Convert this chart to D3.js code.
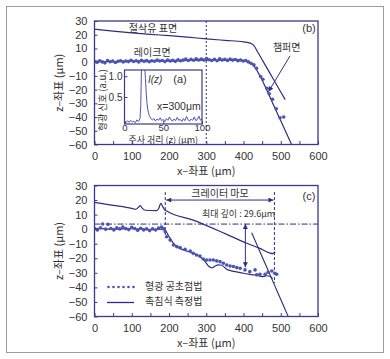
<!DOCTYPE html>
<html><head><meta charset="utf-8">
<script src="https://cdn.jsdelivr.net/npm/d3@7"></script>
<style>
body{margin:0;background:#fff;}
svg{display:block;}
text{font-family:"Liberation Sans",Arial,sans-serif;fill:#333;}
.kr{font-family:"Noto Sans CJK KR","Noto Sans",sans-serif;}
</style></head><body>
<svg id="chart" width="390" height="359"></svg>
<script>
// ---------- tick labels ----------
const xTicks = [0,100,200,300,400,500,600];
const xMinorTicks = [0,50,100,150,200,250,300,350,400,450,500,550,600];
const yTicks = [30,20,10,0,-10,-20,-30,-40,-50,-60];
const insetXTicks = [0,50,100];
const insetYTicks = [0.5,1.0];

// ---------- panel (b) ----------
const bFluidX = [0,50,100,150,200,250,300,350,400,418,427,440,460,480,500,512];
const bFluidZ = [24,22.6,21.4,20.3,19.3,18.2,17,15.9,14.8,13.9,12.4,6.5,-2.9,-12.3,-21.7,-27.3];
const bRakeX = [0,100,200,300,380,410,420,430,440,450,460,480,500,515,529];
const bRakeZ = [0.3,0.6,0.9,1.4,1.2,0.3,-0.8,-3.5,-8,-13,-18.9,-30.8,-42.7,-51.6,-60];
const bDotX = [0,7,14,21,28,35,42,49,56,63,70,77,84,91,98,105,112,119,126,133,140,147,154,161,168,175,182,189,196,203,210,217,224,231,238,245,252,259,266,273,280,287,294,301,308,315,322,329,336,343,350,357,364,371,378,385,392,399,406,413,420,428,435,446,452,463,469,478,488,498,508];
const bDotZ = [0.5,0,1,0.2,-0.5,1.2,0.3,0.8,-0.2,0.6,1,0.2,0.9,0.4,1.3,0.5,1,0.2,1.4,0.6,1.1,0.3,1,0.7,1.5,0.8,1.2,0.4,1.6,0.9,1.3,0.6,1.8,1,1.5,2.2,1.2,2,1.4,2.5,1.6,2.3,1.5,2.6,1.8,1.2,2.1,1,2.4,1.6,2,1.3,2.2,1.5,1.9,1.1,1.6,0.8,1.2,0.2,-0.8,-2,-4.5,-10.5,-12.5,-19,-23,-27,-34,-40.5,-40];

// ---------- inset (a) ----------
const insetZ = [0,2,4,6,8,10,12,14,16,18,20,21,22,23,24,25,26,27,28,29,30,31,32,33,34,36,38,40,42,44,46,48,50,52,54,56,58,60,62,64,66,68,70,72,74,76,78,80,82,84,86,88,90,92,94,96,98,100];
const insetI = [-0.09,-0.12,-0.07,-0.11,-0.06,-0.1,-0.08,-0.12,-0.05,-0.09,-0.02,0.3,1.3,1.3,1.3,1.3,1.25,0.95,0.6,0.35,0.2,0.12,0.05,0.02,-0.02,-0.05,-0.02,-0.08,-0.03,-0.06,0.0,-0.07,-0.04,-0.09,-0.02,-0.06,0.02,-0.05,-0.08,-0.03,-0.07,0.01,-0.06,-0.04,-0.09,-0.02,-0.07,0.03,-0.05,-0.08,-0.03,-0.06,0.02,-0.07,-0.04,0.04,-0.06,-0.03];

// ---------- panel (c) ----------
const cUpperX = [0,50,100,110,118,123,128,136,167,172,178,183,188,194,265,355,409,444,470,478,485];
const cUpperZ = [18.4,16.4,14.3,13.7,15,16.2,14.5,13,12.8,14,17.7,15.5,13.5,12.4,6.2,-3.6,-9.7,-13.2,-16.3,-16.8,-15.5];
const cLowerX = [0,50,100,150,185,192,200,210,221,243,265,283,297,306,315,323,332,341,355,370,382,400,426,440,453,462,472,478];
const cLowerZ = [0.5,0,0.3,-0.3,0,-1.5,-5,-9,-12,-14.6,-16.6,-19,-22.3,-25.3,-26.5,-25.5,-24.6,-24.8,-27.5,-28.8,-29.4,-30.3,-31.4,-32,-32.6,-32,-32.5,-34];
const cChamferX = [422,520];
const cChamferZ = [-2.5,-60];
const cDotX = [0,8,16,22,30,36,44,52,60,68,76,84,92,100,108,116,124,132,140,148,156,164,172,180,186,190,194,203,212,221,230,243,257,265,274,283,292,301,310,319,328,337,346,355,364,373,382,391,404,417,431,435,444,458,466,476,484,489];
const cDotZ = [0.5,-0.5,1,3.5,0,3.3,0.5,-0.5,1,0.2,1.5,0.4,-0.3,1.2,0.5,-0.8,0.6,-0.5,0.2,-1,0.3,-0.6,0.8,1.5,0.2,-1.8,-5.2,-7.5,-10.9,-12,-12.7,-13.9,-15,-16.6,-17.7,-18.4,-20.5,-21.2,-21.2,-21.2,-21.8,-22.3,-23.4,-24.6,-25.3,-25.7,-26.4,-26.8,-28,-29.2,-28,-31.4,-31,-31,-29.6,-28.7,-30.3,-31];
const craterStart = 190, craterEnd = 483;
const refLevel = 3.5;   // dash-dot reference
const maxDepth = 29.6;
const depthX = 405;

const NAVY = "#2e2e80", DOT = "#4a54b4", FRAME = "#3a3a8a";

const svg = d3.select("#chart");
svg.append("defs").append("marker")
  .attr("id","ah").attr("viewBox","0 0 10 10").attr("refX",10).attr("refY",5)
  .attr("markerWidth",7).attr("markerHeight",5).attr("orient","auto-start-reverse")
  .append("path").attr("d","M0,0 L10,5 L0,10 z").attr("fill",NAVY);

// outer frame
svg.append("rect").attr("x",6.5).attr("y",6.5).attr("width",377).attr("height",346)
  .attr("fill","none").attr("stroke","#9c9c9c").attr("stroke-width",1);

const x = d3.scaleLinear([0,600],[94.5,318]);

function drawAxes(y, top, bottom){
  const g = svg.append("g");
  const gx = g.append("g").attr("transform",`translate(0,${bottom})`)
    .call(d3.axisBottom(x).tickValues(xTicks).tickSize(0).tickPadding(8).tickFormat(d=>d));
  gx.select(".domain").remove();
  gx.selectAll("text").attr("font-size",11).attr("fill","#333").attr("font-family","Liberation Sans, Arial, sans-serif");
  const gxm = g.append("g").attr("transform",`translate(0,${bottom})`)
    .call(d3.axisBottom(x).tickValues(xMinorTicks).tickSize(-3.5).tickFormat(""));
  gxm.select(".domain").remove();
  gxm.selectAll("line").attr("stroke",FRAME);
  const gy = g.append("g").attr("transform",`translate(${x(0)},0)`)
    .call(d3.axisLeft(y).tickValues(yTicks).tickSize(-3).tickPadding(6).tickFormat(d=>String(d).replace("-","\u2212")));
  gy.select(".domain").remove();
  gy.selectAll("line").attr("stroke",FRAME);
  gy.selectAll("text").attr("font-size",11).attr("fill","#333").attr("font-family","Liberation Sans, Arial, sans-serif").attr("dx",-1);
  g.append("rect").attr("x",x(0)).attr("y",top).attr("width",x(600)-x(0)).attr("height",bottom-top)
    .attr("fill","none").attr("stroke",FRAME).attr("stroke-width",1.3);
  // axis titles
  g.append("text").attr("class","kr").attr("x",(x(0)+x(600))/2).attr("y",bottom+28)
    .attr("text-anchor","middle").attr("font-size",11).attr("dominant-baseline","middle").text("x\u2013좌표 (μm)");
  g.append("text").attr("class","kr").attr("transform",`translate(60,${(top+bottom)/2}) rotate(-90)`)
    .attr("text-anchor","middle").attr("font-size",11).attr("dominant-baseline","middle").text("z\u2013좌표 (μm)");
}

function lineOf(xs, zs, y, curve){
  return d3.line().x((d,i)=>x(xs[i])).y((d,i)=>y(zs[i])).curve(curve||d3.curveMonotoneX)(xs);
}

// ================= Panel (b) =================
const bTop = 21, bBot = 144.5;
const yb = d3.scaleLinear([-60,30],[bBot,bTop]);

svg.append("defs").append("clipPath").attr("id","clipB")
  .append("rect").attr("x",x(0)).attr("y",bTop).attr("width",x(600)-x(0)).attr("height",bBot-bTop);
const gb = svg.append("g").attr("clip-path","url(#clipB)");
// dashed x=300
gb.append("line").attr("x1",x(300)).attr("x2",x(300)).attr("y1",bTop).attr("y2",bBot)
  .attr("stroke",NAVY).attr("stroke-width",1).attr("stroke-dasharray","2,2");
gb.append("path").attr("d",lineOf(bFluidX,bFluidZ,yb)).attr("fill","none").attr("stroke",NAVY).attr("stroke-width",1.2);
gb.append("path").attr("d",lineOf(bRakeX,bRakeZ,yb)).attr("fill","none").attr("stroke",NAVY).attr("stroke-width",1.2);
gb.selectAll("circle.bd").data(bDotX).join("circle").attr("class","bd")
  .attr("cx",d=>x(d)).attr("cy",(d,i)=>yb(bDotZ[i])).attr("r",1.8).attr("fill",DOT);

drawAxes(yb,bTop,bBot);

svg.append("text").attr("class","kr").attr("x",x(157)).attr("y",29).attr("text-anchor","middle")
  .attr("dominant-baseline","middle").attr("font-size",10).text("절삭유 표면");
svg.append("text").attr("class","kr").attr("x",x(155)).attr("y",53).attr("text-anchor","middle")
  .attr("dominant-baseline","middle").attr("font-size",10).text("레이크면");
svg.append("text").attr("class","kr").attr("x",x(516)).attr("y",48.5).attr("text-anchor","middle")
  .attr("dominant-baseline","middle").attr("font-size",10).text("챔퍼면");
svg.append("line").attr("x1",x(525)).attr("y1",yb(4.6)).attr("x2",x(467)).attr("y2",yb(-21.5))
  .attr("stroke",NAVY).attr("stroke-width",1).attr("marker-end","url(#ah)");
svg.append("text").attr("x",309).attr("y",29.5).attr("text-anchor","middle")
  .attr("dominant-baseline","middle").attr("font-size",11).text("(b)");

// ----- inset (a) -----
const iL=124.5, iR=202, iT=70, iB=124;
const xi = d3.scaleLinear([0,100],[iL,iR]);
const yi = d3.scaleLinear([-0.15,1.15],[iB,iT]);
svg.append("rect").attr("x",iL).attr("y",iT).attr("width",iR-iL).attr("height",iB-iT).attr("fill","#fff");
svg.append("defs").append("clipPath").attr("id","clipI")
  .append("rect").attr("x",iL).attr("y",iT).attr("width",iR-iL).attr("height",iB-iT);
svg.append("g").attr("clip-path","url(#clipI)").append("path")
  .attr("d",d3.line().x((d,i)=>xi(insetZ[i])).y((d,i)=>yi(insetI[i]))(insetZ))
  .attr("fill","none").attr("stroke",DOT).attr("stroke-width",1);
const gix = svg.append("g").attr("transform",`translate(0,${iB})`)
  .call(d3.axisBottom(xi).tickValues(insetXTicks).tickSize(-3).tickPadding(0));
gix.select(".domain").remove();
gix.selectAll("line").attr("stroke",FRAME);
gix.selectAll("text").attr("font-size",9.5).attr("fill","#333").attr("font-family","Liberation Sans, Arial, sans-serif");
const giy = svg.append("g").attr("transform",`translate(${iL},0)`)
  .call(d3.axisLeft(yi).tickValues(insetYTicks).tickSize(-3).tickPadding(2).tickFormat(d3.format(".1f")));
giy.select(".domain").remove();
giy.selectAll("line").attr("stroke",FRAME);
giy.selectAll("text").attr("font-size",10).attr("fill","#333").attr("font-family","Liberation Sans, Arial, sans-serif");
svg.append("rect").attr("x",iL).attr("y",iT).attr("width",iR-iL).attr("height",iB-iT)
  .attr("fill","none").attr("stroke",FRAME).attr("stroke-width",1.2);
svg.append("text").attr("x",148).attr("y",80).attr("font-size",10).attr("font-style","italic")
  .attr("font-family","Liberation Serif, serif").attr("dominant-baseline","middle").text("I(z)");
svg.append("text").attr("x",180).attr("y",80).attr("font-size",11).attr("text-anchor","middle")
  .attr("dominant-baseline","middle").text("(a)");
svg.append("text").attr("x",157).attr("y",107).attr("font-size",10.5)
  .attr("dominant-baseline","middle").text("x=300μm");
svg.append("text").attr("class","kr").attr("x",(iL+iR)/2).attr("y",140.5).attr("text-anchor","middle")
  .attr("dominant-baseline","middle").attr("font-size",9).text("주사 거리 (z) (μm)");
svg.append("text").attr("class","kr").attr("transform",`translate(103,100) rotate(-90)`)
  .attr("text-anchor","middle").attr("dominant-baseline","middle").attr("font-size",9.5).text("형광 신호 (a.u.)");

// ================= Panel (c) =================
const cTop = 185.5, cBot = 316.5;
const yc = d3.scaleLinear([-60,30],[cBot,cTop]);
svg.append("defs").append("clipPath").attr("id","clipC")
  .append("rect").attr("x",x(0)).attr("y",cTop).attr("width",x(600)-x(0)).attr("height",cBot-cTop);
const gc = svg.append("g").attr("clip-path","url(#clipC)");
gc.append("line").attr("x1",x(0)).attr("x2",x(600)).attr("y1",yc(refLevel)).attr("y2",yc(refLevel))
  .attr("stroke",NAVY).attr("stroke-width",1).attr("stroke-dasharray","6,2,1.5,2");
gc.append("line").attr("x1",x(craterStart)).attr("x2",x(craterStart)).attr("y1",yc(25.5)).attr("y2",yc(-6))
  .attr("stroke",NAVY).attr("stroke-width",1).attr("stroke-dasharray","3,2");
gc.append("line").attr("x1",x(craterEnd)).attr("x2",x(craterEnd)).attr("y1",yc(25.5)).attr("y2",yc(-37))
  .attr("stroke",NAVY).attr("stroke-width",1).attr("stroke-dasharray","3,2");
gc.append("path").attr("d",lineOf(cUpperX,cUpperZ,yc)).attr("fill","none").attr("stroke",NAVY).attr("stroke-width",1.2);
gc.append("path").attr("d",lineOf(cLowerX,cLowerZ,yc)).attr("fill","none").attr("stroke",NAVY).attr("stroke-width",1.2);
gc.append("path").attr("d",lineOf(cChamferX,cChamferZ,yc,d3.curveLinear)).attr("fill","none").attr("stroke",NAVY).attr("stroke-width",1.1);
gc.selectAll("circle.cd").data(cDotX).join("circle").attr("class","cd")
  .attr("cx",d=>x(d)).attr("cy",(d,i)=>yc(cDotZ[i])).attr("r",1.8).attr("fill",DOT);
// crater arrow
svg.append("line").attr("x1",x(craterStart)+1).attr("x2",x(craterEnd)-1).attr("y1",yc(20)).attr("y2",yc(20))
  .attr("stroke",NAVY).attr("stroke-width",1).attr("marker-start","url(#ah)").attr("marker-end","url(#ah)");
svg.append("text").attr("class","kr").attr("x",x(337)).attr("y",yc(24)).attr("text-anchor","middle")
  .attr("dominant-baseline","middle").attr("font-size",10).text("크레이터 마모");
// depth arrow
svg.append("line").attr("x1",x(depthX)).attr("x2",x(depthX)).attr("y1",yc(refLevel)).attr("y2",yc(refLevel-maxDepth))
  .attr("stroke",NAVY).attr("stroke-width",1).attr("marker-start","url(#ah)").attr("marker-end","url(#ah)");
svg.append("text").attr("class","kr").attr("x",x(485)).attr("y",yc(10.2)).attr("text-anchor","end")
  .attr("dominant-baseline","middle").attr("font-size",9).text("최대 깊이 : " + maxDepth + "μm");
svg.append("text").attr("x",309).attr("y",197).attr("text-anchor","middle")
  .attr("dominant-baseline","middle").attr("font-size",11).text("(c)");

drawAxes(yc,cTop,cBot);

// legend
const legendItems = [{label:"형광 공초점법", type:"dot", y:287},{label:"촉침식 측정법", type:"line", y:302.5}];
legendItems.forEach(it=>{
  if(it.type==="dot"){
    svg.append("line").attr("x1",108.5).attr("x2",134).attr("y1",it.y).attr("y2",it.y)
      .attr("stroke",DOT).attr("stroke-width",2.6).attr("stroke-linecap","round").attr("stroke-dasharray","0,5");
  } else {
    svg.append("line").attr("x1",107).attr("x2",134).attr("y1",it.y).attr("y2",it.y)
      .attr("stroke",NAVY).attr("stroke-width",1.3);
  }
  svg.append("text").attr("class","kr").attr("x",145).attr("y",it.y).attr("dominant-baseline","middle")
    .attr("font-size",10).text(it.label);
});
</script>
</body></html>
